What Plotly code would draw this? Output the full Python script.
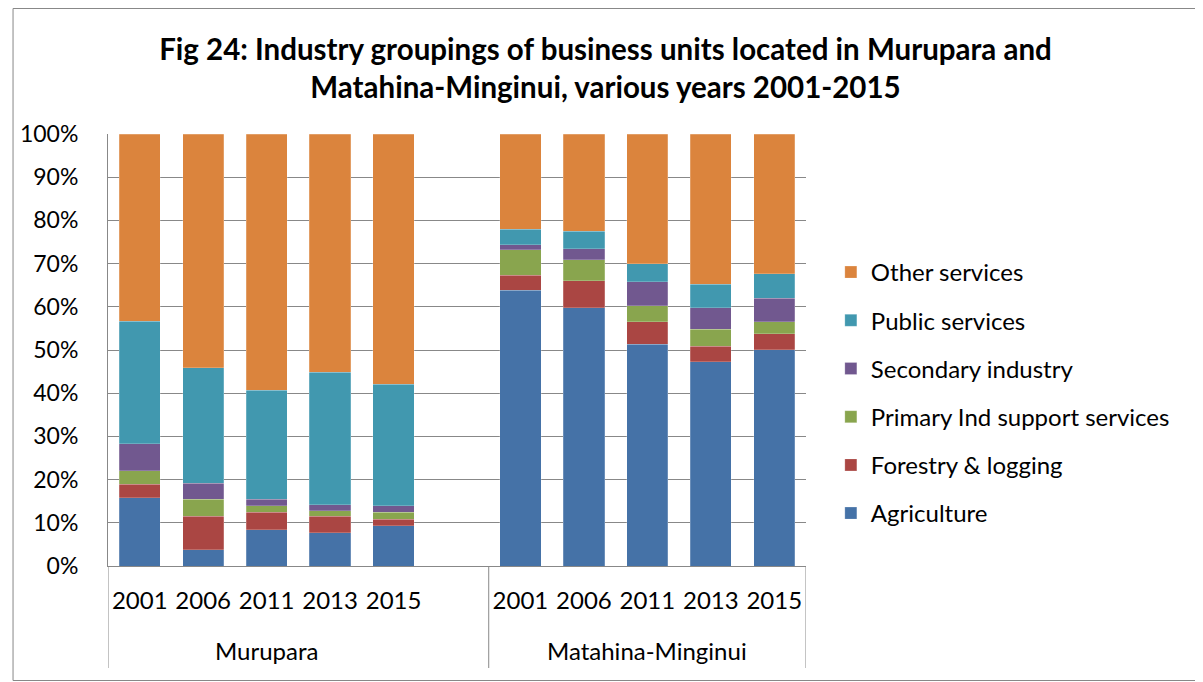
import plotly.graph_objects as go

regions = ["Murupara", "Matahina-Minginui"]
years = ["2001", "2006", "2011", "2013", "2015"]
series_names = ["Agriculture", "Forestry & logging", "Primary Ind support services",
                "Secondary industry", "Public services", "Other services"]
colors = ["#4572A7", "#AA4643", "#89A54E", "#71588F", "#4198AF", "#DB843D"]

# percent share per segment, Murupara years then Matahina-Minginui years
agriculture = [15.8, 3.8, 8.4, 7.7, 9.3, 63.8, 59.8, 51.3, 47.3, 50.1]
forestry = [3.1, 7.7, 4.1, 3.8, 1.5, 3.5, 6.2, 5.2, 3.6, 3.7]
primary_support = [3.2, 3.9, 1.5, 1.3, 1.7, 5.9, 4.9, 3.8, 3.9, 2.7]
secondary = [6.2, 3.8, 1.5, 1.4, 1.4, 1.2, 2.5, 5.5, 5.0, 5.5]
public = [28.4, 26.7, 25.2, 30.6, 28.2, 3.5, 4.1, 4.2, 5.4, 5.6]
other = [43.3, 54.1, 59.3, 55.2, 57.9, 22.1, 22.5, 30.0, 34.8, 32.4]
series_values = [agriculture, forestry, primary_support, secondary, public, other]

FONT = "Lato"
GRID = "#888888"

# x positions: 5 slots for Murupara, 1 empty slot, 5 slots for Matahina
n = len(years)
xpos = list(range(n)) + [n + 1 + i for i in range(n)]
tick_text = years + years

fig = go.Figure()
for k, (name, col, vals) in enumerate(zip(series_names, colors, series_values)):
    fig.add_trace(go.Bar(
        x=xpos, y=vals, name=name, width=0.65,
        marker=dict(color=col, line=dict(color="rgba(255,255,255,0.35)", width=0.6)),
        legendgroup=name, legendrank=len(series_names) - k,
    ))

# page has an 8px body margin; figure is sized so page coords match the reference
OFF = 8
W, H = 1203 - OFF, 682 - OFF
PL, PR, PT, PB = 104, 806, 134, 566  # plot area in page coordinates
L, T = PL - OFF, PT - OFF
R, B = W - (PR - OFF), H - (PB - OFF)
pw, ph = W - L - R, H - T - B

def px(xpage):
    return (xpage - OFF - L) / pw

def py(ypage):
    return (H - B - (ypage - OFF)) / ph

shapes = []
# chart outer border
shapes.append(dict(type="rect", xref="paper", yref="paper",
                   x0=px(OFF + 0.5), x1=px(1201.5), y0=py(680.5), y1=py(OFF + 0.5),
                   line=dict(color=GRID, width=1), fillcolor="rgba(0,0,0,0)", layer="below"))
# category group dividers below axis
for xv in [-0.5, n + 0.5, 2 * n + 0.5]:
    shapes.append(dict(type="line", xref="x", yref="paper", x0=xv, x1=xv,
                       y0=0, y1=py(668), line=dict(color=GRID, width=1)))

annotations = []
for reg, xc in zip(regions, [(n - 1) / 2, n + 1 + (n - 1) / 2]):
    annotations.append(dict(text=reg, x=xc, xref="x", y=py(650), yref="paper",
                            showarrow=False, xanchor="center", yanchor="middle",
                            font=dict(family=FONT, size=24, color="black")))

fig.update_layout(
    width=W, height=H,
    margin=dict(l=L, r=R, t=T, b=B, pad=0),
    paper_bgcolor="white", plot_bgcolor="white",
    barmode="stack",
    title=dict(text="<b>Fig 24: Industry groupings of business units located in Murupara and<br>Matahina-Minginui, various years 2001-2015</b>",
               x=0.5, xref="container", xanchor="center",
               y=1 - (60 - OFF) / H, yref="container", yanchor="middle",
               font=dict(family=FONT, size=29.5, color="black")),
    font=dict(family=FONT, size=24, color="black"),
    xaxis=dict(range=[-0.5, 2 * n + 0.5], tickvals=xpos, ticktext=tick_text, showgrid=False,
               showline=True, linecolor=GRID, linewidth=1, ticks="outside", ticklen=13,
               tickcolor="rgba(0,0,0,0)", tickfont=dict(family=FONT, size=24), zeroline=False),
    yaxis=dict(range=[0, 100], dtick=10, ticksuffix="%", showgrid=True, gridcolor=GRID,
               gridwidth=1, showline=True, linecolor=GRID, linewidth=1, zeroline=False,
               ticks="outside", ticklen=24, tickcolor="rgba(0,0,0,0)",
               tickfont=dict(family=FONT, size=23)),
    legend=dict(x=px(831), xanchor="left", y=py(250), yanchor="top",
                traceorder="grouped", tracegroupgap=14,
                font=dict(family=FONT, size=24), itemwidth=30, bgcolor="rgba(0,0,0,0)"),
    shapes=shapes, annotations=annotations,
)

fig.write_html("out.html")
